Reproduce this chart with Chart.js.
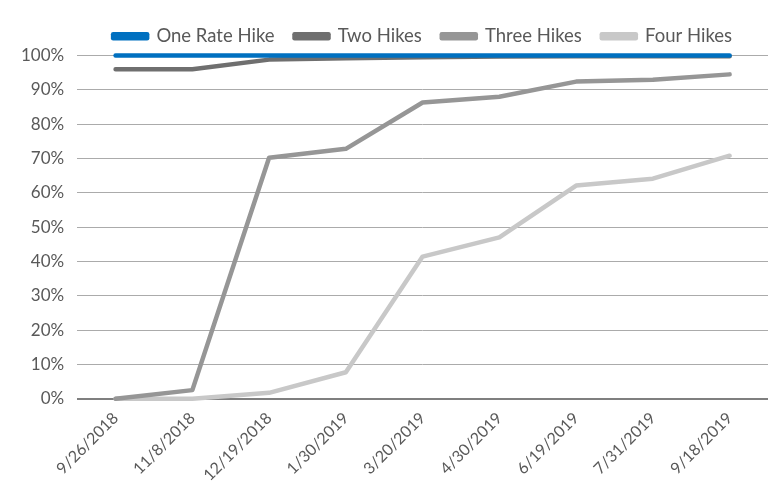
<!DOCTYPE html>
<html>
<head>
<meta charset="utf-8">
<script src="https://cdn.jsdelivr.net/npm/chart.js@4/dist/chart.umd.min.js"></script>
<style>
    html, body { margin: 0; padding: 0; background: #fff; }
    #wrap { width: 771px; height: 490px; }
</style>
</head>
<body>
<div id="wrap"><canvas id="hikeChart"></canvas></div>
<script>
// Meeting dates
const meetingDates = ['9/26/2018', '11/8/2018', '12/19/2018', '1/30/2019', '3/20/2019',
    '4/30/2019', '6/19/2019', '7/31/2019', '9/18/2019'];

// Cumulative probability (%) by number of hikes
const oneRateHike = [100, 100, 100, 100, 100, 100, 100, 100, 100];
const twoHikes = [96, 96, 98.8, 99.2, 99.5, 99.7, 99.8, 99.8, 99.8];
const threeHikes = [0, 2.5, 70.2, 72.8, 86.3, 88, 92.4, 92.9, 94.5];
const fourHikes = [0, 0, 1.7, 7.7, 41.4, 47, 62.1, 64.1, 70.8];

const tickColor = '#595959';
const fontFamily = 'Lato, "Open Sans", sans-serif';

function makeLine(label, data, color) {
    return {
        label: label,
        data: data,
        borderColor: color,
        backgroundColor: color,
        borderWidth: 4.5,
        borderCapStyle: 'round',
        borderJoinStyle: 'round',
        pointRadius: 0,
        tension: 0,
        fill: false,
        clip: 6
    };
}

const ctx = document.getElementById('hikeChart').getContext('2d');
const hikeChart = new Chart(ctx, {
    type: 'line',
    data: {
        labels: meetingDates,
        datasets: [
            makeLine('One Rate Hike', oneRateHike, '#0070C0'),
            makeLine('Two Hikes', twoHikes, '#6F6F6F'),
            makeLine('Three Hikes', threeHikes, '#969696'),
            makeLine('Four Hikes', fourHikes, '#C8C8C8')
        ]
    },
    options: {
        responsive: true,
        maintainAspectRatio: false,
        animation: false,
        layout: { padding: { left: 8, right: 3, top: 7, bottom: 3 } },
        plugins: {
            tooltip: { enabled: false },
            legend: {
                position: 'top',
                fullSize: false,
                labels: {
                    boxWidth: 34,
                    boxHeight: 4,
                    padding: 20,
                    color: tickColor,
                    font: { family: fontFamily, size: 18.5 }
                }
            }
        },
        scales: {
            x: {
                offset: true,
                grid: { display: false },
                border: { display: false },
                ticks: {
                    color: tickColor,
                    minRotation: 45,
                    maxRotation: 45,
                    padding: 2,
                    font: { family: fontFamily, size: 16 }
                }
            },
            y: {
                min: 0,
                max: 100,
                border: { display: false },
                grid: {
                    drawTicks: false,
                    color: ctx => ctx.tick.value === 0 ? '#7F7F7F' : '#ABABAB',
                    lineWidth: ctx => ctx.tick.value === 0 ? 2 : 1
                },
                ticks: {
                    stepSize: 10,
                    padding: 13,
                    color: tickColor,
                    font: { family: fontFamily, size: 17 },
                    callback: v => v + '%'
                }
            }
        }
    }
});
</script>
</body>
</html>
